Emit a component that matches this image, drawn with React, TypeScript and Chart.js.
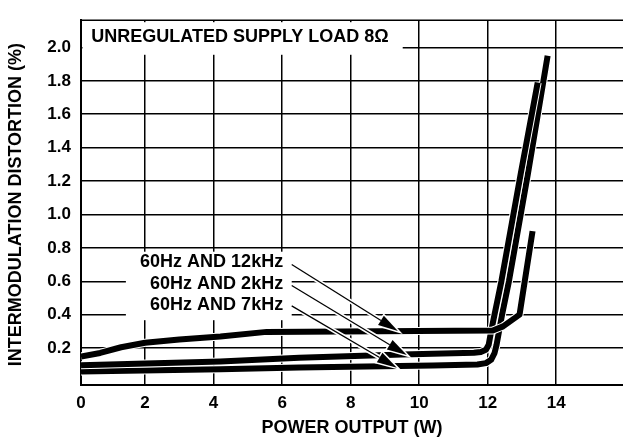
import React, { useEffect, useRef } from "react";
import { Chart, registerables } from "chart.js";

Chart.register(...registerables);

// ---------- data ----------
const SERIES_LABELS = ["60Hz AND 12kHz", "60Hz AND 2kHz", "60Hz AND 7kHz"];

const X_12K = [0.13, 0.69, 1.3, 2.0, 3.0, 4.2, 5.55, 12.15, 12.45, 12.93, 13.31];
const Y_12K = [0.15, 0.171, 0.205, 0.232, 0.252, 0.27, 0.297, 0.305, 0.33, 0.4, 0.9];

const X_2K = [0.13, 4.2, 6.5, 9.5, 11.6, 11.8, 11.95, 12.03, 12.1, 12.2, 12.4, 12.97, 13.46];
const Y_2K = [0.097, 0.12, 0.142, 0.162, 0.172, 0.177, 0.19, 0.22, 0.3, 0.4, 0.6, 1.25, 1.79];

const X_7K = [0.13, 4.2, 6.5, 10.4, 11.7, 11.95, 12.1, 12.2, 12.26, 12.42, 12.62, 13.18, 13.75];
const Y_7K = [0.06, 0.074, 0.084, 0.096, 0.102, 0.11, 0.13, 0.17, 0.22, 0.4, 0.6, 1.25, 1.95];

const X_TICKS = [0, 2, 4, 6, 8, 10, 12, 14];
const Y_TICKS = [0.2, 0.4, 0.6, 0.8, 1.0, 1.2, 1.4, 1.6, 1.8, 2.0];

const X_TITLE = "POWER OUTPUT (W)";
const Y_TITLE = "INTERMODULATION DISTORTION (%)";
const CHART_TITLE = "UNREGULATED SUPPLY LOAD 8\u03A9";

// label / arrow annotation anchors (data coordinates)
const LABEL_RIGHT_X = 6.03;
const LABEL_Y = [0.713, 0.586, 0.459];
const ARROW_FROM_X = [6.28, 6.28, 6.28];
const ARROW_FROM_Y = [0.70, 0.575, 0.453];
const ARROW_TO_X = [9.38, 9.64, 9.35];
const ARROW_TO_Y = [0.302, 0.158, 0.083];

const FONT = "'Liberation Sans', Arial, Helvetica, sans-serif";

const X_MIN = 0.13;
const X_MAX = 15.95;
const Y_MIN = -0.021;
const Y_MAX = 2.163;

const toPoints = (xs: number[], ys: number[]) => xs.map((x, i) => ({ x, y: ys[i] }));

const annotate = {
  id: "annotate",
  beforeDatasetsDraw(chart: any) {
    const { ctx, chartArea: a, scales } = chart;
    const x = scales.x;
    const y = scales.y;
    ctx.save();
    ctx.fillStyle = "#fff";
    // title box
    const tx1 = x.getPixelForValue(9.52);
    const ty1 = y.getPixelForValue(1.956);
    ctx.fillRect(a.left + 1.5, a.top + 2, tx1 - a.left - 1.5, ty1 - a.top - 2);
    // label box
    const lx0 = x.getPixelForValue(1.44);
    const lx1 = x.getPixelForValue(6.28);
    const ly0 = y.getPixelForValue(0.777);
    const ly1 = y.getPixelForValue(0.367);
    ctx.fillRect(lx0, ly0, lx1 - lx0, ly1 - ly0);
    // top border
    ctx.strokeStyle = "#000";
    ctx.lineWidth = 1.5;
    ctx.beginPath();
    ctx.moveTo(a.left, a.top);
    ctx.lineTo(a.right, a.top);
    ctx.stroke();
    ctx.restore();
  },
  afterDatasetsDraw(chart: any) {
    const { ctx, scales } = chart;
    const x = scales.x;
    const y = scales.y;
    ctx.save();
    // arrows
    for (let i = 0; i < ARROW_FROM_X.length; i++) {
      const x0 = x.getPixelForValue(ARROW_FROM_X[i]);
      const y0 = y.getPixelForValue(ARROW_FROM_Y[i]);
      const x1 = x.getPixelForValue(ARROW_TO_X[i]);
      const y1 = y.getPixelForValue(ARROW_TO_Y[i]);
      const ang = Math.atan2(y1 - y0, x1 - x0);
      const len = 20;
      const hw = 5.5;
      const bx = x1 - len * Math.cos(ang);
      const by = y1 - len * Math.sin(ang);
      const px = -Math.sin(ang);
      const py = Math.cos(ang);
      // halo
      ctx.strokeStyle = "#fff";
      ctx.lineWidth = 4.5;
      ctx.lineCap = "butt";
      ctx.beginPath();
      ctx.moveTo(x0, y0);
      ctx.lineTo(bx, by);
      ctx.stroke();
      ctx.beginPath();
      ctx.moveTo(x1, y1);
      ctx.lineTo(bx + px * hw, by + py * hw);
      ctx.lineTo(bx - px * hw, by - py * hw);
      ctx.closePath();
      ctx.lineWidth = 3;
      ctx.lineJoin = "miter";
      ctx.stroke();
      // black
      ctx.strokeStyle = "#000";
      ctx.lineWidth = 1.3;
      ctx.beginPath();
      ctx.moveTo(x0, y0);
      ctx.lineTo(bx, by);
      ctx.stroke();
      ctx.fillStyle = "#000";
      ctx.beginPath();
      ctx.moveTo(x1, y1);
      ctx.lineTo(bx + px * hw, by + py * hw);
      ctx.lineTo(bx - px * hw, by - py * hw);
      ctx.closePath();
      ctx.fill();
    }
    // labels
    ctx.fillStyle = "#000";
    ctx.font = `bold 18px ${FONT}`;
    ctx.textAlign = "right";
    ctx.textBaseline = "middle";
    const lr = x.getPixelForValue(LABEL_RIGHT_X);
    SERIES_LABELS.forEach((t, i) => {
      ctx.fillText(t, lr, y.getPixelForValue(LABEL_Y[i]));
    });
    // title
    ctx.textAlign = "left";
    ctx.fillText(CHART_TITLE, x.getPixelForValue(0.43), y.getPixelForValue(2.062));
    ctx.restore();
  },
  afterDraw(chart: any) {
    const { ctx, chartArea: a } = chart;
    ctx.save();
    ctx.fillStyle = "#000";
    ctx.font = `bold 18px ${FONT}`;
    ctx.textAlign = "center";
    ctx.textBaseline = "middle";
    ctx.fillText(X_TITLE, (a.left + a.right) / 2, chart.height - 14.5);
    ctx.translate(16, (a.top + a.bottom) / 2 + 2);
    ctx.rotate(-Math.PI / 2);
    ctx.fillText(Y_TITLE, 0, 0);
    ctx.restore();
  },
};

export default function App() {
  const ref = useRef<HTMLCanvasElement | null>(null);
  useEffect(() => {
    if (!ref.current) return;
    // each curve: a thin white halo drawn just beneath its black stroke
    const mk = (label: string, xs: number[], ys: number[], order: number, halo: boolean) => ({
      label: halo ? label + " halo" : label,
      data: toPoints(xs, ys),
      borderColor: halo ? "#fff" : "#000",
      backgroundColor: halo ? "#fff" : "#000",
      borderWidth: halo ? 8 : 6,
      pointRadius: 0,
      tension: 0,
      borderJoinStyle: "round" as const,
      borderCapStyle: "butt" as const,
      fill: false,
      order,
    });
    const chart = new Chart(ref.current, {
      type: "line",
      data: {
        datasets: [
          mk(SERIES_LABELS[0], X_12K, Y_12K, 0, false),
          mk(SERIES_LABELS[0], X_12K, Y_12K, 1, true),
          mk(SERIES_LABELS[1], X_2K, Y_2K, 2, false),
          mk(SERIES_LABELS[1], X_2K, Y_2K, 3, true),
          mk(SERIES_LABELS[2], X_7K, Y_7K, 4, false),
          mk(SERIES_LABELS[2], X_7K, Y_7K, 5, true),
        ],
      },
      options: {
        animation: false,
        responsive: true,
        maintainAspectRatio: false,
        layout: { padding: { left: 0, right: 0, top: 7, bottom: 0 } },
        plugins: { legend: { display: false }, tooltip: { enabled: false }, title: { display: false } },
        scales: {
          x: {
            type: "linear",
            min: X_MIN,
            max: X_MAX,
            afterBuildTicks: (s: any) => {
              s.ticks = X_TICKS.map((v) => ({ value: v === 0 ? X_MIN : v }));
            },
            afterFit: (s: any) => {
              s.height = 58;
            },
            ticks: {
              color: "#000",
              font: { family: FONT, size: 17, weight: "bold" },
              padding: 8,
              maxRotation: 0,
              autoSkip: false,
              callback: (v: any) => (Number(v) < 1 ? "0" : String(v)),
            },
            grid: { color: "#000", lineWidth: 1.5, drawTicks: false },
            border: { color: "#000", width: 2 },
          },
          y: {
            type: "linear",
            min: Y_MIN,
            max: Y_MAX,
            afterBuildTicks: (s: any) => {
              s.ticks = Y_TICKS.map((v) => ({ value: v }));
            },
            afterFit: (s: any) => {
              s.width = 81;
            },
            ticks: {
              color: "#000",
              font: { family: FONT, size: 17, weight: "bold" },
              padding: 10,
              autoSkip: false,
              callback: (v: any) => Number(v).toFixed(1),
            },
            grid: { color: "#000", lineWidth: 1.5, drawTicks: false },
            border: { color: "#000", width: 2 },
          },
        },
      },
      plugins: [annotate],
    });
    return () => chart.destroy();
  }, []);
  return (
    <div style={{ position: "fixed", left: 0, top: 0, width: 623, height: 443, background: "#fff" }}>
      <canvas ref={ref} />
    </div>
  );
}
